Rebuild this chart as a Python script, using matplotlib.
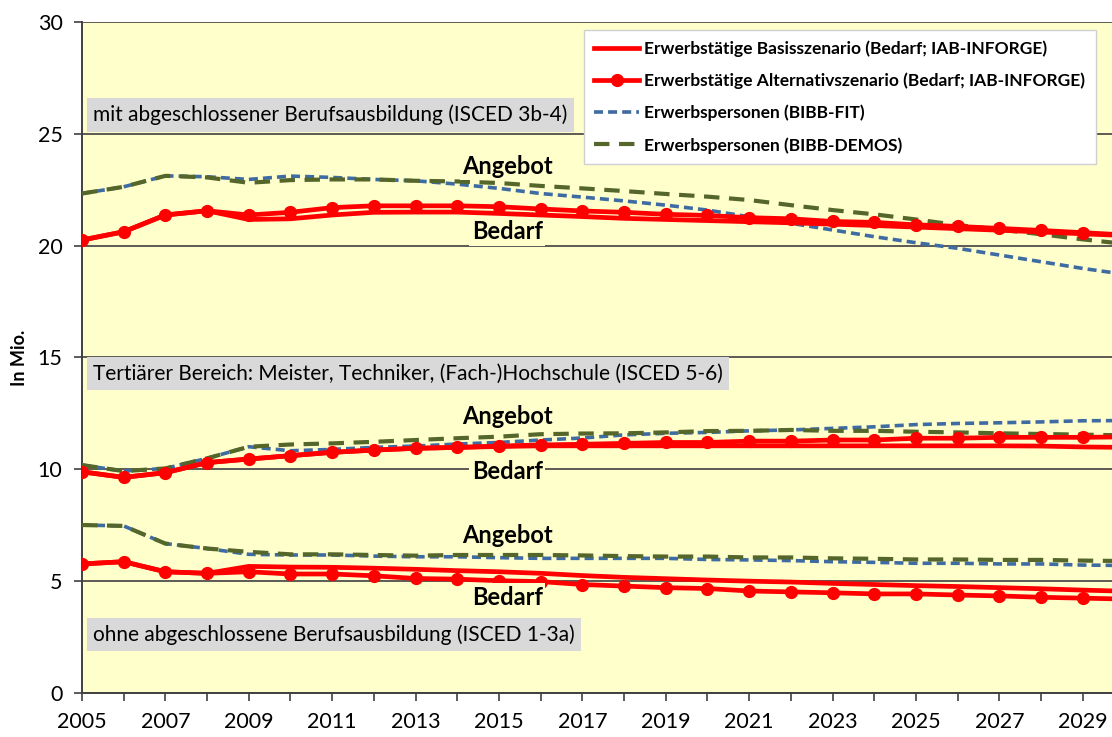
import matplotlib
matplotlib.use("Agg")
import matplotlib.pyplot as plt
from matplotlib.lines import Line2D

plt.rcParams['font.family'] = ['Lato', 'DejaVu Sans']

years = list(range(2005, 2031))

# ISCED 3b-4 (mit abgeschlossener Berufsausbildung)
mid_basis = [20.25, 20.62, 21.37, 21.56, 21.17, 21.20, 21.37, 21.49, 21.50, 21.50, 21.44, 21.37, 21.30,
             21.22, 21.17, 21.12, 21.07, 21.02, 20.96, 20.90, 20.83, 20.76, 20.69, 20.61, 20.53, 20.45]
mid_alt = [20.25, 20.62, 21.37, 21.56, 21.37, 21.49, 21.70, 21.78, 21.78, 21.78, 21.74, 21.64, 21.55,
           21.49, 21.40, 21.35, 21.25, 21.20, 21.08, 21.04, 20.93, 20.86, 20.77, 20.68, 20.58, 20.48]
mid_fit = [22.33, 22.63, 23.12, 23.08, 22.96, 23.11, 23.05, 22.96, 22.90, 22.75, 22.56, 22.33, 22.17,
           22.00, 21.81, 21.59, 21.29, 21.00, 20.70, 20.40, 20.13, 19.88, 19.58, 19.28, 18.98, 18.72]
mid_demos = [22.33, 22.63, 23.12, 23.05, 22.81, 22.93, 22.96, 22.96, 22.90, 22.87, 22.80, 22.67, 22.56,
             22.44, 22.31, 22.19, 22.04, 21.81, 21.59, 21.40, 21.17, 20.92, 20.72, 20.51, 20.28, 20.08]

# ISCED 5-6 (Tertiärer Bereich)
high_basis = [9.89, 9.64, 9.85, 10.30, 10.46, 10.61, 10.76, 10.86, 10.94, 10.98, 11.02, 11.05, 11.05,
              11.05, 11.05, 11.05, 11.05, 11.05, 11.05, 11.05, 11.05, 11.05, 11.05, 11.04, 11.00, 10.98]
high_alt = [9.89, 9.64, 9.85, 10.30, 10.46, 10.61, 10.76, 10.86, 10.94, 10.98, 11.04, 11.09, 11.12,
            11.16, 11.20, 11.20, 11.26, 11.26, 11.31, 11.31, 11.39, 11.39, 11.43, 11.43, 11.43, 11.45]
high_fit = [10.19, 9.92, 10.04, 10.49, 11.01, 10.83, 10.89, 10.98, 11.04, 11.13, 11.20, 11.31, 11.40,
            11.54, 11.61, 11.65, 11.72, 11.76, 11.83, 11.90, 12.00, 12.05, 12.08, 12.12, 12.17, 12.18]
high_demos = [10.19, 9.92, 10.04, 10.49, 11.01, 11.11, 11.16, 11.23, 11.31, 11.39, 11.46, 11.57, 11.60,
              11.61, 11.65, 11.71, 11.72, 11.76, 11.72, 11.72, 11.68, 11.65, 11.61, 11.58, 11.55, 11.52]

# ISCED 1-3a (ohne abgeschlossene Berufsausbildung)
low_basis = [5.77, 5.87, 5.42, 5.35, 5.66, 5.63, 5.62, 5.58, 5.53, 5.47, 5.42, 5.35, 5.25,
             5.17, 5.11, 5.05, 5.00, 4.96, 4.90, 4.85, 4.80, 4.76, 4.71, 4.66, 4.60, 4.55]
low_alt = [5.77, 5.87, 5.42, 5.35, 5.42, 5.32, 5.32, 5.24, 5.12, 5.09, 5.02, 4.98, 4.85,
           4.78, 4.71, 4.67, 4.56, 4.52, 4.48, 4.43, 4.43, 4.38, 4.34, 4.28, 4.24, 4.20]
low_fit = [7.51, 7.47, 6.68, 6.46, 6.20, 6.17, 6.17, 6.12, 6.09, 6.09, 6.05, 6.02, 6.02,
           6.02, 6.02, 5.97, 5.95, 5.92, 5.87, 5.84, 5.80, 5.80, 5.77, 5.77, 5.72, 5.70]
low_demos = [7.51, 7.47, 6.68, 6.46, 6.31, 6.20, 6.20, 6.17, 6.14, 6.17, 6.17, 6.17, 6.15,
             6.12, 6.10, 6.10, 6.06, 6.06, 6.02, 6.00, 5.97, 5.97, 5.95, 5.95, 5.92, 5.90]

legend_labels = ["Erwerbstätige Basisszenario (Bedarf; IAB-INFORGE)",
                 "Erwerbstätige Alternativszenario (Bedarf; IAB-INFORGE)",
                 "Erwerbspersonen (BIBB-FIT)",
                 "Erwerbspersonen (BIBB-DEMOS)"]

RED = "#FF0000"
BLUE = "#3F6BA3"
GREEN = "#55662A"
BG = "#FFFFCC"

fig = plt.figure(figsize=(11.12, 7.37), dpi=100)
ax = fig.add_axes([0.0737, 0.0597, 0.9263, 0.9105])
ax.set_facecolor(BG)

for fit, demos, basis, alt in [(mid_fit, mid_demos, mid_basis, mid_alt),
                               (high_fit, high_demos, high_basis, high_alt),
                               (low_fit, low_demos, low_basis, low_alt)]:
    ax.plot(years, fit, color=BLUE, lw=2.6, dashes=(2.5, 1.4), zorder=3)
    ax.plot(years, demos, color=GREEN, lw=3, dashes=(3.7, 2.3), zorder=3)
    ax.plot(years, basis, color=RED, lw=3.4, zorder=4)
    ax.plot(years, alt, color=RED, lw=3.4, marker='o', markersize=8.5, zorder=5)

ax.set_xlim(2005, 2029.7)
ax.set_ylim(0, 30)
ax.set_yticks(range(0, 31, 5))
ax.set_xticks(range(2005, 2030))
ax.set_xticklabels([str(y) if (y - 2005) % 2 == 0 else "" for y in range(2005, 2030)])
ax.yaxis.grid(True, color="#404040", lw=1.2)
ax.set_axisbelow(True)
ax.tick_params(axis='both', labelsize=15.5, direction='out', length=6, width=1.2, color="#404040")
ax.tick_params(axis='x', pad=8)
ax.tick_params(axis='y', pad=8)
for s in ['top', 'right']:
    ax.spines[s].set_visible(False)
for s in ['left', 'bottom']:
    ax.spines[s].set_color("#404040")
    ax.spines[s].set_linewidth(1.4)
ax.set_ylabel("In Mio.", fontsize=13, fontweight='bold')
ax.yaxis.set_label_coords(-0.052, 0.5)

# group captions
box = dict(boxstyle='square,pad=0.3', facecolor="#D9D9D9", edgecolor='none')
ax.text(2005.27, 25.84, "mit abgeschlossener Berufsausbildung (ISCED 3b-4)", fontsize=15,
        va='center', ha='left', bbox=box, zorder=6)
ax.text(2005.27, 14.28, "Tertiärer Bereich: Meister, Techniker, (Fach-)Hochschule (ISCED 5-6)", fontsize=15,
        va='center', ha='left', bbox=box, zorder=6)
ax.text(2005.27, 2.6, "ohne abgeschlossene Berufsausbildung (ISCED 1-3a)", fontsize=15,
        va='center', ha='left', bbox=box, zorder=6)

lab = dict(fontsize=17, fontweight='bold', ha='center', va='center', zorder=7,
           bbox=dict(boxstyle='square,pad=0.1', facecolor=BG, edgecolor='none'))
ax.text(2015.2, 23.56, "Angebot", **lab)
ax.text(2015.2, 20.62, "Bedarf", **lab)
ax.text(2015.2, 12.35, "Angebot", **lab)
ax.text(2015.2, 9.89, "Bedarf", **lab)
ax.text(2015.2, 7.06, "Angebot", **lab)
ax.text(2015.2, 4.28, "Bedarf", **lab)

handles = [Line2D([], [], color=RED, lw=3.4),
           Line2D([], [], color=RED, lw=3.4, marker='o', markersize=8.5),
           Line2D([], [], color=BLUE, lw=2.6, dashes=(2.5, 1.4)),
           Line2D([], [], color=GREEN, lw=3, dashes=(3.7, 2.3))]
leg = ax.legend(handles, legend_labels, loc='upper left', bbox_to_anchor=(0.487, 0.988),
                borderaxespad=0,
                prop={'weight': 'bold', 'size': 12.5}, frameon=True, fancybox=False,
                edgecolor='#D0D0D0', facecolor='white', framealpha=1,
                handlelength=2.6, handletextpad=0.3, labelspacing=0.9, borderpad=0.6)
leg.set_zorder(8)

fig.savefig("out.png", dpi=100)
